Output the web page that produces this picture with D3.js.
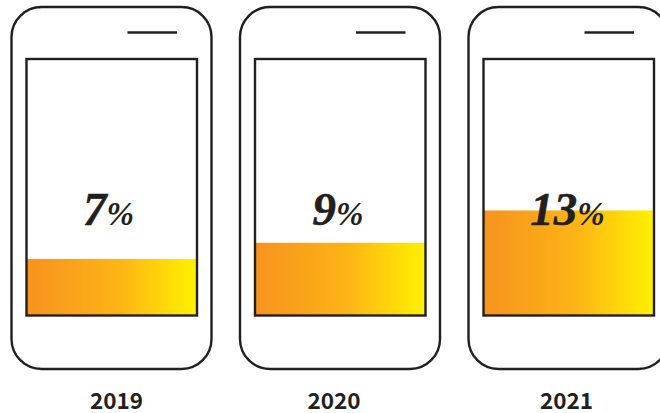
<!DOCTYPE html>
<html>
<head>
<meta charset="utf-8">
<script src="https://cdn.jsdelivr.net/npm/d3@7"></script>
<style>
html,body{margin:0;padding:0;background:#fff;overflow:hidden}
svg{display:block}
</style>
</head>
<body>
<svg id="chart" width="660" height="413"></svg>
<script>
const years = ["2019", "2020", "2021"];
const shares = [7, 9, 13];
const yearLabelShift = [5, -6, -2];
const shareLabelShift = [-3, -2, -1];

const ink = "#231f20";
const svg = d3.select("#chart");

const phoneW = 200, phoneH = 362, phoneTop = 7;
const screenInsetX = 15, screenW = 170.5, screenTop = 59, screenBottom = 315.5;

// Phones sit on an evenly spaced band; the last one runs off the right edge.
const x = d3.scalePoint().domain(years).range([11.5, 468.5]);
const y = d3.scaleLinear().domain([0, 32]).range([screenBottom, screenBottom - 32 * 8.08]);

const grad = svg.append("defs").append("linearGradient").attr("id", "fill");
grad.append("stop").attr("offset", "0%").attr("stop-color", "#f7941e");
grad.append("stop").attr("offset", "10%").attr("stop-color", "#f8981d");
grad.append("stop").attr("offset", "55%").attr("stop-color", "#fdb515");
grad.append("stop").attr("offset", "100%").attr("stop-color", "#fff200");

const phones = svg.selectAll("g.phone")
  .data(years.map((year, i) => ({year, share: shares[i], i})))
  .join("g")
  .attr("class", "phone")
  .attr("transform", d => `translate(${x(d.year)},0)`);

phones.append("rect")
  .attr("y", phoneTop).attr("width", phoneW).attr("height", phoneH)
  .attr("rx", 30).attr("ry", 30)
  .attr("fill", "#fff").attr("stroke", ink).attr("stroke-width", 2.4);

phones.append("line")
  .attr("x1", 116).attr("x2", 165.5).attr("y1", 32.5).attr("y2", 32.5)
  .attr("stroke", ink).attr("stroke-width", 2.3);

phones.append("rect")
  .attr("x", screenInsetX).attr("y", d => y(d.share))
  .attr("width", screenW).attr("height", d => y(0) - y(d.share))
  .attr("fill", "url(#fill)");

phones.append("rect")
  .attr("x", screenInsetX).attr("y", screenTop)
  .attr("width", screenW).attr("height", screenBottom - screenTop)
  .attr("fill", "none").attr("stroke", ink).attr("stroke-width", 2.4);

const pct = phones.append("text")
  .attr("x", d => phoneW / 2 + shareLabelShift[d.i])
  .attr("y", 225)
  .attr("text-anchor", "middle")
  .attr("fill", ink)
  .attr("stroke", ink)
  .attr("stroke-width", 0.5)
  .attr("font-family", "'Liberation Serif', serif")
  .attr("font-style", "italic")
  .attr("font-weight", 700);
pct.append("tspan").attr("font-size", 47).text(d => d.share);
pct.append("tspan").attr("font-size", 33).attr("stroke-width", 0).text("%");

phones.append("text")
  .attr("x", d => phoneW / 2 + yearLabelShift[d.i])
  .attr("y", 409)
  .attr("text-anchor", "middle")
  .attr("fill", ink)
  .attr("font-family", "'Noto Sans CJK KR', 'Noto Sans', sans-serif")
  .attr("font-weight", 700)
  .attr("font-size", 22.5)
  .text(d => d.year);
</script>
</body>
</html>
